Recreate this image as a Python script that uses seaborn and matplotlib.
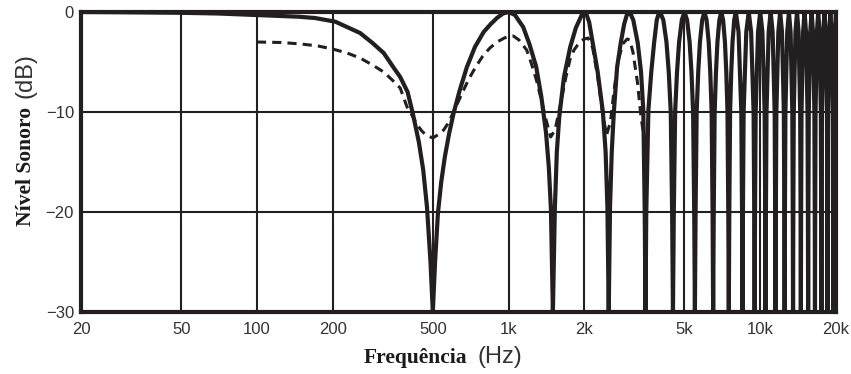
import matplotlib
matplotlib.use('Agg')
import matplotlib.pyplot as plt
import seaborn as sns

# solid curve: direct sound + reflection of equal level
solid_hz = [
    20, 30, 50, 70, 100, 146, 170, 205, 228, 257, 288, 319, 348, 371, 397, 416, 440, 458, 474, 489, 500,
    511, 524, 540, 558, 580, 605, 640, 683, 735, 796, 850, 899, 950, 1000,
    1060, 1143, 1210, 1288, 1350, 1409, 1445, 1473, 1500, 1527, 1555, 1590, 1660, 1758, 1850, 1928, 1965, 2000,
    2040, 2090, 2160, 2260, 2370, 2430, 2470, 2500, 2530, 2570, 2620, 2700, 2790, 2880, 2950, 3000,
    3060, 3130, 3260, 3360, 3430, 3475, 3500, 3525, 3594, 3690, 3786, 3880, 3940, 4000,
    4120, 4240, 4330, 4410, 4465, 4500, 4535, 4590, 4670, 4760, 4880, 5000,
    5120, 5240, 5330, 5410, 5465, 5500, 5535, 5590, 5670, 5760, 5880, 6000,
    6120, 6240, 6330, 6410, 6465, 6500, 6535, 6590, 6670, 6760, 6880, 7000,
    7120, 7240, 7330, 7410, 7465, 7500, 7535, 7590, 7670, 7760, 7880, 8000,
    8200, 8410, 8465, 8500, 8535, 8590, 8800, 9000,
    9200, 9410, 9465, 9500, 9535, 9590, 9800, 10000,
    10200, 10410, 10465, 10500, 10535, 10590, 10800, 11000,
    11200, 11410, 11465, 11500, 11535, 11590, 11800, 12000,
    12200, 12410, 12465, 12500, 12535, 12590, 12800, 13000,
    13200, 13410, 13465, 13500, 13535, 13590, 13800, 14000,
    14200, 14410, 14465, 14500, 14535, 14590, 14800, 15000,
    15200, 15410, 15465, 15500, 15535, 15590, 15800, 16000,
    16200, 16410, 16465, 16500, 16535, 16590, 16800, 17000,
    17200, 17410, 17465, 17500, 17535, 17590, 17800, 18000,
    18200, 18410, 18465, 18500, 18535, 18590, 18800, 19000,
    19200, 19410, 19465, 19500, 19535, 19590, 19800, 20000,
]
solid_db = [
    0, -0.03, -0.08, -0.15, -0.3, -0.47, -0.6, -0.97, -1.5, -2.1, -3.1, -4.1, -5.5, -6.5, -8.0, -10.1, -13.0, -15.8, -19.5, -24.8, -30,
    -24.8, -20.1, -17.0, -14.5, -12.2, -10.1, -7.8, -5.5, -3.5, -2.0, -1.2, -0.6, -0.15, 0,
    -0.3, -1.5, -3.2, -5.5, -8.5, -12.1, -15.5, -19.7, -30, -19.7, -14.0, -10.5, -6.5, -3.5, -1.6, -0.6, -0.15, 0,
    -0.25, -1.0, -3.1, -6.0, -10.0, -14.0, -19.5, -30, -19.5, -14.0, -10.0, -5.5, -3.1, -1.2, -0.3, 0,
    -0.25, -0.8, -3.1, -6.0, -9.8, -20, -30, -20, -9.8, -6.0, -3.1, -0.8, -0.25, 0,
    -0.8, -3.0, -6.0, -10.0, -20.0, -30, -20.0, -10.0, -6.0, -3.0, -0.8, 0,
    -0.8, -3.0, -6.0, -10.0, -20.0, -30, -20.0, -10.0, -6.0, -3.0, -0.8, 0,
    -0.8, -3.0, -6.0, -10.0, -20.0, -30, -20.0, -10.0, -6.0, -3.0, -0.8, 0,
    -0.8, -3.0, -6.0, -10.0, -20.0, -30, -20.0, -10.0, -6.0, -3.0, -0.8, 0,
    -2.0, -10.0, -20.0, -30, -20.0, -10.0, -2.0, 0,
    -2.0, -10.0, -20.0, -30, -20.0, -10.0, -2.0, 0,
    -2.0, -10.0, -20.0, -30, -20.0, -10.0, -2.0, 0,
    -2.0, -10.0, -20.0, -30, -20.0, -10.0, -2.0, 0,
    -2.0, -10.0, -20.0, -30, -20.0, -10.0, -2.0, 0,
    -2.0, -10.0, -20.0, -30, -20.0, -10.0, -2.0, 0,
    -2.0, -10.0, -20.0, -30, -20.0, -10.0, -2.0, 0,
    -2.0, -10.0, -20.0, -30, -20.0, -10.0, -2.0, 0,
    -2.0, -10.0, -20.0, -30, -20.0, -10.0, -2.0, 0,
    -2.0, -10.0, -20.0, -30, -20.0, -10.0, -2.0, 0,
    -2.0, -10.0, -20.0, -30, -20.0, -10.0, -2.0, 0,
    -2.0, -10.0, -20.0, -30, -20.0, -10.0, -2.0, 0,
]

# dashed curve: weaker reflection
dash_hz = [100, 125, 150, 175, 200, 228, 257, 288, 319, 345, 371, 395, 415, 434, 452, 470, 500,
           530, 552, 576, 612, 654, 695, 740, 790, 843, 900, 962, 1000, 1045, 1100, 1180, 1230, 1290, 1350, 1410,
           1470, 1530, 1600, 1690, 1760, 1820, 1880, 1940, 2000, 2070, 2160, 2260,
           2370, 2450, 2540, 2620, 2720, 2840, 2960, 3030, 3120, 3250,
           3360, 3450, 3530]
dash_db = [-3.0, -3.05, -3.2, -3.4, -3.7, -4.1, -4.6, -5.3, -6.0, -6.8, -7.6, -9.5, -10.4, -11.3, -11.9, -12.3, -12.6,
           -12.2, -11.8, -11.1, -9.7, -8.1, -6.7, -5.5, -4.4, -3.6, -3.0, -2.6, -2.45, -2.4, -2.8, -3.8, -5.1, -6.8, -8.8, -10.8,
           -12.5, -11.8, -9.5, -6.5, -4.6, -3.8, -3.3, -2.9, -2.7, -2.6, -3.6, -6.5,
           -10.3, -12.3, -11.0, -8.0, -5.0, -3.2, -2.7, -2.8, -4.0, -7.0,
           -10.5, -12.5, -13.0]

x_ticks = [20, 50, 100, 200, 500, 1000, 2000, 5000, 10000, 20000]
x_labels = ['20', '50', '100', '200', '500', '1k', '2k', '5k', '10k', '20k']
y_ticks = [-30, -20, -10, 0]

ink = '#231f20'
label_grey = '#333333'

sns.set_style('white')
plt.rcParams['font.family'] = ['Liberation Sans', 'DejaVu Sans']

W, H = 851, 374
fig = plt.figure(figsize=(W / 100, H / 100), dpi=100)
ax = fig.add_axes([81 / W, 1 - 312 / H, (836 - 81) / W, 300 / H])

sns.lineplot(x=dash_hz, y=dash_db, ax=ax, color=ink, linewidth=2.2,
             linestyle=(0, (3, 2)), estimator=None, sort=False)
sns.lineplot(x=solid_hz, y=solid_db, ax=ax, color=ink, linewidth=3.0,
             estimator=None, sort=False)

ax.set_xscale('log')
ax.set_xlim(20, 20000)
ax.set_ylim(-30, 0)
ax.set_xticks(x_ticks)
ax.set_xticklabels(x_labels)
ax.minorticks_off()
ax.set_yticks(y_ticks)
ax.grid(True, color=ink, linewidth=1.5)
ax.tick_params(length=0, labelsize=12, labelcolor=label_grey)
ax.tick_params(axis='x', pad=7)
ax.tick_params(axis='y', pad=5)
for s in ax.spines.values():
    s.set_visible(True)
    s.set_color(ink)
    s.set_linewidth(3)
ax.set_xlabel('')
ax.set_ylabel('')

# composite axis titles: bold serif word + plain sans unit
fig.canvas.draw()
r = fig.canvas.get_renderer()

t1 = fig.text(0, 0, 'Frequência', family=['Liberation Serif'], fontweight='bold',
              fontsize=15.5, color='#1a1a1a', transform=None, va='baseline')
t2 = fig.text(0, 0, '(Hz)', fontsize=17, color=label_grey, transform=None, va='baseline')
w1 = t1.get_window_extent(r).width
w2 = t2.get_window_extent(r).width
gap = 11
x0 = 443 - (w1 + gap + w2) / 2
t1.set_position((x0, H - 363))
t2.set_position((x0 + w1 + gap, H - 363))

s1 = fig.text(0, 0, 'Nível Sonoro', family=['Liberation Serif'], fontweight='bold',
              fontsize=15.5, color='#1a1a1a', transform=None, rotation=90,
              rotation_mode='anchor', ha='left', va='baseline')
s2 = fig.text(0, 0, '(dB)', fontsize=17, color=label_grey, transform=None, rotation=90,
              rotation_mode='anchor', ha='left', va='baseline')
l1 = s1.get_window_extent(r).height
l2 = s2.get_window_extent(r).height
gap = 9
y0 = (H - 140) - (l1 + gap + l2) / 2
s1.set_position((31, y0))
s2.set_position((31, y0 + l1 + gap))

fig.savefig('out.png', dpi=100)
